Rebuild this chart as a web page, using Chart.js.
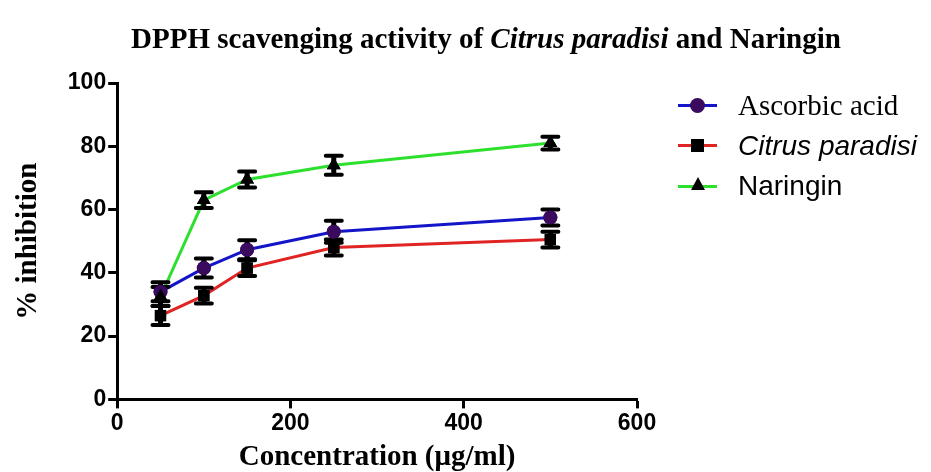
<!DOCTYPE html>
<html lang="en">
<head>
    <meta charset="UTF-8">
    <title>DPPH scavenging activity</title>
    <style>
        body {
            margin: 0;
            padding: 0;
            background-color: #ffffff;
            width: 931px;
            height: 472px;
            overflow: hidden;
            position: relative;
        }
        #wrap {
            position: absolute;
            left: 0;
            top: 0;
            width: 931px;
            height: 472px;
        }
        .title {
            position: absolute;
            top: 22px;
            left: 0;
            width: 972px;
            text-align: center;
            font-family: 'Liberation Serif', serif;
            font-weight: bold;
            font-size: 29px;
            color: #000;
            white-space: nowrap;
        }
        .legend {
            position: absolute;
            left: 678px;
            top: 85px;
        }
        .legend-row {
            position: relative;
            height: 40.5px;
            display: flex;
            align-items: center;
            white-space: nowrap;
        }
        .legend-line {
            position: relative;
            width: 39px;
            height: 3px;
            margin-right: 21px;
        }
        .legend-mark {
            position: absolute;
            left: 13px;
            top: -5px;
            width: 13px;
            height: 13px;
        }
        .legend-text {
            font-size: 28px;
            color: #000;
        }
    </style>
    <script src="https://cdn.jsdelivr.net/npm/chart.js"></script>
</head>
<body>
    <div id="wrap">
        <canvas id="dpphChart" width="931" height="472"></canvas>
    </div>
    <div class="title">DPPH scavenging activity of <i>Citrus paradisi</i> and Naringin</div>
    <div class="legend">
        <div class="legend-row">
            <div class="legend-line" style="background:#1414c8;">
                <div class="legend-mark" style="background:#3a0a5e;border-radius:50%;left:12px;top:-6px;width:15px;height:15px;"></div>
            </div>
            <span class="legend-text" style="font-family:'Liberation Serif',serif;font-size:29px;">Ascorbic acid</span>
        </div>
        <div class="legend-row">
            <div class="legend-line" style="background:#e02424;">
                <div class="legend-mark" style="background:#000;"></div>
            </div>
            <span class="legend-text" style="font-family:'Liberation Sans',sans-serif;font-style:italic;">Citrus paradisi</span>
        </div>
        <div class="legend-row">
            <div class="legend-line" style="background:#2ee02e;">
                <div class="legend-mark" style="background:none;width:0;height:0;left:13px;top:-8px;border-left:7px solid transparent;border-right:7px solid transparent;border-bottom:13px solid #000;"></div>
            </div>
            <span class="legend-text" style="font-family:'Liberation Sans',sans-serif;">Naringin</span>
        </div>
    </div>

    <script>
        // concentrations (ug/ml)
        const concentrations = [50, 100, 150, 250, 500];

        // % inhibition, mean values
        const ascorbicValues = [34, 41.5, 47.3, 53, 57.5];
        const citrusValues = [26.5, 32.8, 41.5, 48, 50.5];
        const naringinValues = [32.5, 63, 69.5, 74, 81];

        // error bar half-widths
        const ascorbicErr = [3, 3, 3, 3.5, 2.5];
        const citrusErr = [3, 2.5, 2.5, 2.5, 2.5];
        const naringinErr = [3, 2.5, 2.5, 3, 2];

        const xTicks = [0, 200, 400, 600];
        const yTicks = [0, 20, 40, 60, 80, 100];

        function toPoints(xs, ys) {
            return xs.map((x, i) => ({ x: x, y: ys[i] }));
        }

        // draws the black error bars with caps
        const errorBarPlugin = {
            id: 'errorBars',
            afterDatasetsDraw(chart) {
                const ctx = chart.ctx;
                const xScale = chart.scales.x;
                const yScale = chart.scales.y;
                ctx.save();
                ctx.strokeStyle = '#000';
                chart.data.datasets.forEach(ds => {
                    ds.data.forEach((p, i) => {
                        const e = ds.errors[i];
                        const px = xScale.getPixelForValue(p.x);
                        const top = yScale.getPixelForValue(p.y + e);
                        const bot = yScale.getPixelForValue(p.y - e);
                        ctx.lineWidth = 5;
                        ctx.beginPath();
                        ctx.moveTo(px, top);
                        ctx.lineTo(px, bot);
                        ctx.stroke();
                        ctx.lineWidth = 4;
                        ctx.lineCap = 'round';
                        ctx.beginPath();
                        ctx.moveTo(px - 8, top);
                        ctx.lineTo(px + 8, top);
                        ctx.moveTo(px - 8, bot);
                        ctx.lineTo(px + 8, bot);
                        ctx.stroke();
                        ctx.lineCap = 'butt';
                    });
                });
                ctx.restore();
            }
        };

        // markers drawn again on top so they sit over the error bars
        const markerPlugin = {
            id: 'markersOnTop',
            afterDraw(chart) {
                chart.data.datasets.forEach((ds, i) => {
                    const meta = chart.getDatasetMeta(i);
                    meta.data.forEach(el => el.draw(chart.ctx, chart.chartArea));
                });
            }
        };

        const ctx = document.getElementById('dpphChart').getContext('2d');

        new Chart(ctx, {
            type: 'scatter',
            data: {
                datasets: [
                    {
                        label: 'Ascorbic acid',
                        data: toPoints(concentrations, ascorbicValues),
                        errors: ascorbicErr,
                        showLine: true,
                        borderColor: '#1414c8',
                        borderWidth: 3,
                        pointStyle: 'circle',
                        pointRadius: 7,
                        pointBackgroundColor: '#3a0a5e',
                        pointBorderColor: '#3a0a5e',
                        pointBorderWidth: 0
                    },
                    {
                        label: 'Citrus paradisi',
                        data: toPoints(concentrations, citrusValues),
                        errors: citrusErr,
                        showLine: true,
                        borderColor: '#e02424',
                        borderWidth: 3,
                        pointStyle: 'rect',
                        pointRadius: 8,
                        pointBackgroundColor: '#000',
                        pointBorderColor: '#000',
                        pointBorderWidth: 0
                    },
                    {
                        label: 'Naringin',
                        data: toPoints(concentrations, naringinValues),
                        errors: naringinErr,
                        showLine: true,
                        borderColor: '#2ee02e',
                        borderWidth: 3,
                        pointStyle: 'triangle',
                        pointRadius: 8,
                        pointBackgroundColor: '#000',
                        pointBorderColor: '#000',
                        pointBorderWidth: 0
                    }
                ]
            },
            options: {
                responsive: false,
                animation: false,
                layout: {
                    padding: { top: 83, right: 294, bottom: 0, left: 11 }
                },
                scales: {
                    x: {
                        type: 'linear',
                        min: 0,
                        max: 600,
                        afterBuildTicks: axis => { axis.ticks = xTicks.map(v => ({ value: v })); },
                        border: { display: true, color: '#000', width: 3 },
                        grid: {
                            drawOnChartArea: false,
                            drawTicks: true,
                            tickLength: 9,
                            tickWidth: 3,
                            tickColor: '#000'
                        },
                        ticks: {
                            color: '#000',
                            padding: 1,
                            maxRotation: 0,
                            font: { family: 'Liberation Sans', size: 23, weight: 'bold' }
                        },
                        title: {
                            display: true,
                            text: 'Concentration (μg/ml)',
                            color: '#000',
                            padding: { top: 5, bottom: 0 },
                            font: { family: 'Liberation Serif', size: 29, weight: 'bold', lineHeight: 1.0 }
                        }
                    },
                    y: {
                        type: 'linear',
                        min: 0,
                        max: 100,
                        afterBuildTicks: axis => { axis.ticks = yTicks.map(v => ({ value: v })); },
                        border: { display: true, color: '#000', width: 3 },
                        grid: {
                            drawOnChartArea: false,
                            drawTicks: true,
                            tickLength: 9,
                            tickWidth: 3,
                            tickColor: '#000'
                        },
                        ticks: {
                            color: '#000',
                            padding: 2,
                            font: { family: 'Liberation Sans', size: 23, weight: 'bold' }
                        },
                        title: {
                            display: true,
                            text: '% inhibition',
                            color: '#000',
                            padding: { top: 0, bottom: 20 },
                            font: { family: 'Liberation Serif', size: 29, weight: 'bold' }
                        }
                    }
                },
                plugins: {
                    legend: { display: false },
                    title: { display: false },
                    tooltip: { enabled: false }
                }
            },
            plugins: [errorBarPlugin, markerPlugin]
        });
    </script>
</body>
</html>
